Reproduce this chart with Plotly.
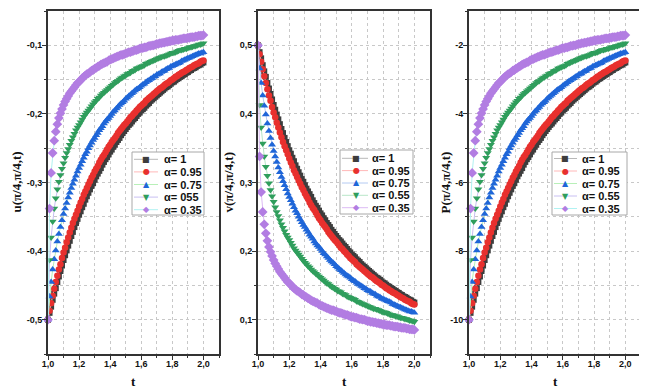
import plotly.graph_objects as go

# time grid (t from 1 to 2, step 0.01)
t = [1.00, 1.01, 1.02, 1.03, 1.04, 1.05, 1.06, 1.07, 1.08, 1.09,
     1.10, 1.11, 1.12, 1.13, 1.14, 1.15, 1.16, 1.17, 1.18, 1.19,
     1.20, 1.21, 1.22, 1.23, 1.24, 1.25, 1.26, 1.27, 1.28, 1.29,
     1.30, 1.31, 1.32, 1.33, 1.34, 1.35, 1.36, 1.37, 1.38, 1.39,
     1.40, 1.41, 1.42, 1.43, 1.44, 1.45, 1.46, 1.47, 1.48, 1.49,
     1.50, 1.51, 1.52, 1.53, 1.54, 1.55, 1.56, 1.57, 1.58, 1.59,
     1.60, 1.61, 1.62, 1.63, 1.64, 1.65, 1.66, 1.67, 1.68, 1.69,
     1.70, 1.71, 1.72, 1.73, 1.74, 1.75, 1.76, 1.77, 1.78, 1.79,
     1.80, 1.81, 1.82, 1.83, 1.84, 1.85, 1.86, 1.87, 1.88, 1.89,
     1.90, 1.91, 1.92, 1.93, 1.94, 1.95, 1.96, 1.97, 1.98, 1.99,
     2.00]

# ---- u(pi/4, pi/4, t) ----
u_a1 = [-0.500, -0.490, -0.481, -0.471, -0.462, -0.454, -0.445, -0.437, -0.429, -0.421,
        -0.413, -0.406, -0.399, -0.392, -0.385, -0.378, -0.372, -0.365, -0.359, -0.353,
        -0.347, -0.342, -0.336, -0.331, -0.325, -0.320, -0.315, -0.310, -0.305, -0.301,
        -0.296, -0.291, -0.287, -0.283, -0.279, -0.274, -0.270, -0.266, -0.263, -0.259,
        -0.255, -0.252, -0.248, -0.245, -0.241, -0.238, -0.235, -0.231, -0.228, -0.225,
        -0.222, -0.219, -0.216, -0.214, -0.211, -0.208, -0.206, -0.203, -0.200, -0.198,
        -0.195, -0.193, -0.191, -0.188, -0.186, -0.184, -0.181, -0.179, -0.177, -0.175,
        -0.173, -0.171, -0.169, -0.167, -0.165, -0.163, -0.161, -0.160, -0.158, -0.156,
        -0.154, -0.153, -0.151, -0.149, -0.148, -0.146, -0.145, -0.143, -0.142, -0.140,
        -0.139, -0.137, -0.136, -0.134, -0.133, -0.132, -0.130, -0.129, -0.128, -0.126,
        -0.125]
u_a095 = [-0.500, -0.487, -0.476, -0.465, -0.455, -0.445, -0.436, -0.427, -0.419, -0.410,
          -0.402, -0.395, -0.387, -0.380, -0.373, -0.366, -0.359, -0.353, -0.347, -0.341,
          -0.335, -0.329, -0.324, -0.318, -0.313, -0.308, -0.303, -0.298, -0.293, -0.289,
          -0.284, -0.280, -0.276, -0.271, -0.267, -0.263, -0.260, -0.256, -0.252, -0.248,
          -0.245, -0.241, -0.238, -0.235, -0.232, -0.228, -0.225, -0.222, -0.219, -0.216,
          -0.214, -0.211, -0.208, -0.205, -0.203, -0.200, -0.198, -0.195, -0.193, -0.190,
          -0.188, -0.186, -0.184, -0.181, -0.179, -0.177, -0.175, -0.173, -0.171, -0.169,
          -0.167, -0.165, -0.163, -0.162, -0.160, -0.158, -0.156, -0.155, -0.153, -0.151,
          -0.150, -0.148, -0.146, -0.145, -0.143, -0.142, -0.140, -0.139, -0.138, -0.136,
          -0.135, -0.133, -0.132, -0.131, -0.129, -0.128, -0.127, -0.126, -0.124, -0.123,
          -0.122]
u_a075 = [-0.500, -0.466, -0.445, -0.427, -0.412, -0.399, -0.386, -0.375, -0.365, -0.355,
          -0.346, -0.338, -0.330, -0.322, -0.315, -0.308, -0.302, -0.296, -0.290, -0.284,
          -0.279, -0.274, -0.269, -0.264, -0.259, -0.255, -0.250, -0.246, -0.242, -0.238,
          -0.235, -0.231, -0.228, -0.224, -0.221, -0.218, -0.214, -0.211, -0.208, -0.206,
          -0.203, -0.200, -0.197, -0.195, -0.192, -0.190, -0.187, -0.185, -0.183, -0.181,
          -0.178, -0.176, -0.174, -0.172, -0.170, -0.168, -0.166, -0.164, -0.163, -0.161,
          -0.159, -0.157, -0.156, -0.154, -0.152, -0.151, -0.149, -0.148, -0.146, -0.145,
          -0.143, -0.142, -0.141, -0.139, -0.138, -0.137, -0.135, -0.134, -0.133, -0.131,
          -0.130, -0.129, -0.128, -0.127, -0.126, -0.125, -0.123, -0.122, -0.121, -0.120,
          -0.119, -0.118, -0.117, -0.116, -0.115, -0.114, -0.113, -0.112, -0.112, -0.111,
          -0.110]
u_a055 = [-0.500, -0.413, -0.380, -0.357, -0.338, -0.323, -0.310, -0.299, -0.289, -0.280,
          -0.272, -0.264, -0.257, -0.251, -0.245, -0.239, -0.234, -0.229, -0.224, -0.220,
          -0.216, -0.212, -0.208, -0.204, -0.201, -0.198, -0.195, -0.192, -0.189, -0.186,
          -0.183, -0.181, -0.178, -0.176, -0.173, -0.171, -0.169, -0.167, -0.165, -0.163,
          -0.161, -0.159, -0.157, -0.155, -0.153, -0.152, -0.150, -0.148, -0.147, -0.145,
          -0.144, -0.142, -0.141, -0.140, -0.138, -0.137, -0.136, -0.134, -0.133, -0.132,
          -0.131, -0.130, -0.129, -0.127, -0.126, -0.125, -0.124, -0.123, -0.122, -0.121,
          -0.120, -0.119, -0.118, -0.117, -0.116, -0.116, -0.115, -0.114, -0.113, -0.112,
          -0.111, -0.111, -0.110, -0.109, -0.108, -0.107, -0.107, -0.106, -0.105, -0.105,
          -0.104, -0.103, -0.103, -0.102, -0.101, -0.101, -0.100, -0.099, -0.099, -0.098,
          -0.097]
u_a035 = [-0.500, -0.338, -0.286, -0.257, -0.239, -0.226, -0.215, -0.206, -0.199, -0.193,
          -0.187, -0.182, -0.178, -0.174, -0.170, -0.167, -0.164, -0.161, -0.158, -0.155,
          -0.153, -0.151, -0.148, -0.146, -0.144, -0.142, -0.141, -0.139, -0.137, -0.136,
          -0.134, -0.133, -0.131, -0.130, -0.128, -0.127, -0.126, -0.125, -0.124, -0.122,
          -0.121, -0.120, -0.119, -0.118, -0.117, -0.116, -0.115, -0.114, -0.114, -0.113,
          -0.112, -0.111, -0.110, -0.110, -0.109, -0.108, -0.107, -0.107, -0.106, -0.105,
          -0.104, -0.104, -0.103, -0.103, -0.102, -0.101, -0.101, -0.100, -0.100, -0.099,
          -0.098, -0.098, -0.097, -0.097, -0.096, -0.096, -0.095, -0.095, -0.094, -0.094,
          -0.093, -0.093, -0.092, -0.092, -0.092, -0.091, -0.091, -0.090, -0.090, -0.090,
          -0.089, -0.089, -0.088, -0.088, -0.088, -0.087, -0.087, -0.086, -0.086, -0.086,
          -0.085]

# ---- v(pi/4, pi/4, t) ----
v_a1 = [0.500, 0.490, 0.481, 0.471, 0.462, 0.454, 0.445, 0.437, 0.429, 0.421,
        0.413, 0.406, 0.399, 0.392, 0.385, 0.378, 0.372, 0.365, 0.359, 0.353,
        0.347, 0.342, 0.336, 0.331, 0.325, 0.320, 0.315, 0.310, 0.305, 0.301,
        0.296, 0.291, 0.287, 0.283, 0.279, 0.274, 0.270, 0.266, 0.263, 0.259,
        0.255, 0.252, 0.248, 0.245, 0.241, 0.238, 0.235, 0.231, 0.228, 0.225,
        0.222, 0.219, 0.216, 0.214, 0.211, 0.208, 0.206, 0.203, 0.200, 0.198,
        0.195, 0.193, 0.191, 0.188, 0.186, 0.184, 0.181, 0.179, 0.177, 0.175,
        0.173, 0.171, 0.169, 0.167, 0.165, 0.163, 0.161, 0.160, 0.158, 0.156,
        0.154, 0.153, 0.151, 0.149, 0.148, 0.146, 0.145, 0.143, 0.142, 0.140,
        0.139, 0.137, 0.136, 0.134, 0.133, 0.132, 0.130, 0.129, 0.128, 0.126,
        0.125]
v_a095 = [0.500, 0.487, 0.476, 0.465, 0.455, 0.445, 0.436, 0.427, 0.419, 0.410,
          0.402, 0.395, 0.387, 0.380, 0.373, 0.366, 0.359, 0.353, 0.347, 0.341,
          0.335, 0.329, 0.324, 0.318, 0.313, 0.308, 0.303, 0.298, 0.293, 0.289,
          0.284, 0.280, 0.276, 0.271, 0.267, 0.263, 0.260, 0.256, 0.252, 0.248,
          0.245, 0.241, 0.238, 0.235, 0.232, 0.228, 0.225, 0.222, 0.219, 0.216,
          0.214, 0.211, 0.208, 0.205, 0.203, 0.200, 0.198, 0.195, 0.193, 0.190,
          0.188, 0.186, 0.184, 0.181, 0.179, 0.177, 0.175, 0.173, 0.171, 0.169,
          0.167, 0.165, 0.163, 0.162, 0.160, 0.158, 0.156, 0.155, 0.153, 0.151,
          0.150, 0.148, 0.146, 0.145, 0.143, 0.142, 0.140, 0.139, 0.138, 0.136,
          0.135, 0.133, 0.132, 0.131, 0.129, 0.128, 0.127, 0.126, 0.124, 0.123,
          0.122]
v_a075 = [0.500, 0.466, 0.445, 0.427, 0.412, 0.399, 0.386, 0.375, 0.365, 0.355,
          0.346, 0.338, 0.330, 0.322, 0.315, 0.308, 0.302, 0.296, 0.290, 0.284,
          0.279, 0.274, 0.269, 0.264, 0.259, 0.255, 0.250, 0.246, 0.242, 0.238,
          0.235, 0.231, 0.228, 0.224, 0.221, 0.218, 0.214, 0.211, 0.208, 0.206,
          0.203, 0.200, 0.197, 0.195, 0.192, 0.190, 0.187, 0.185, 0.183, 0.181,
          0.178, 0.176, 0.174, 0.172, 0.170, 0.168, 0.166, 0.164, 0.163, 0.161,
          0.159, 0.157, 0.156, 0.154, 0.152, 0.151, 0.149, 0.148, 0.146, 0.145,
          0.143, 0.142, 0.141, 0.139, 0.138, 0.137, 0.135, 0.134, 0.133, 0.131,
          0.130, 0.129, 0.128, 0.127, 0.126, 0.125, 0.123, 0.122, 0.121, 0.120,
          0.119, 0.118, 0.117, 0.116, 0.115, 0.114, 0.113, 0.112, 0.112, 0.111,
          0.110]
v_a055 = [0.500, 0.413, 0.380, 0.357, 0.338, 0.323, 0.310, 0.299, 0.289, 0.280,
          0.272, 0.264, 0.257, 0.251, 0.245, 0.239, 0.234, 0.229, 0.224, 0.220,
          0.216, 0.212, 0.208, 0.204, 0.201, 0.198, 0.195, 0.192, 0.189, 0.186,
          0.183, 0.181, 0.178, 0.176, 0.173, 0.171, 0.169, 0.167, 0.165, 0.163,
          0.161, 0.159, 0.157, 0.155, 0.153, 0.152, 0.150, 0.148, 0.147, 0.145,
          0.144, 0.142, 0.141, 0.140, 0.138, 0.137, 0.136, 0.134, 0.133, 0.132,
          0.131, 0.130, 0.129, 0.127, 0.126, 0.125, 0.124, 0.123, 0.122, 0.121,
          0.120, 0.119, 0.118, 0.117, 0.116, 0.116, 0.115, 0.114, 0.113, 0.112,
          0.111, 0.111, 0.110, 0.109, 0.108, 0.107, 0.107, 0.106, 0.105, 0.105,
          0.104, 0.103, 0.103, 0.102, 0.101, 0.101, 0.100, 0.099, 0.099, 0.098,
          0.097]
v_a035 = [0.500, 0.338, 0.286, 0.257, 0.239, 0.226, 0.215, 0.206, 0.199, 0.193,
          0.187, 0.182, 0.178, 0.174, 0.170, 0.167, 0.164, 0.161, 0.158, 0.155,
          0.153, 0.151, 0.148, 0.146, 0.144, 0.142, 0.141, 0.139, 0.137, 0.136,
          0.134, 0.133, 0.131, 0.130, 0.128, 0.127, 0.126, 0.125, 0.124, 0.122,
          0.121, 0.120, 0.119, 0.118, 0.117, 0.116, 0.115, 0.114, 0.114, 0.113,
          0.112, 0.111, 0.110, 0.110, 0.109, 0.108, 0.107, 0.107, 0.106, 0.105,
          0.104, 0.104, 0.103, 0.103, 0.102, 0.101, 0.101, 0.100, 0.100, 0.099,
          0.098, 0.098, 0.097, 0.097, 0.096, 0.096, 0.095, 0.095, 0.094, 0.094,
          0.093, 0.093, 0.092, 0.092, 0.092, 0.091, 0.091, 0.090, 0.090, 0.090,
          0.089, 0.089, 0.088, 0.088, 0.088, 0.087, 0.087, 0.086, 0.086, 0.086,
          0.085]

# ---- P(pi/4, pi/4, t) ----
p_a1 = [-10.00, -9.80, -9.62, -9.42, -9.24, -9.08, -8.90, -8.74, -8.58, -8.42,
        -8.26, -8.12, -7.98, -7.84, -7.70, -7.56, -7.44, -7.30, -7.18, -7.06,
        -6.94, -6.84, -6.72, -6.62, -6.50, -6.40, -6.30, -6.20, -6.10, -6.02,
        -5.92, -5.82, -5.74, -5.66, -5.58, -5.48, -5.40, -5.32, -5.26, -5.18,
        -5.10, -5.04, -4.96, -4.90, -4.82, -4.76, -4.70, -4.62, -4.56, -4.50,
        -4.44, -4.38, -4.32, -4.28, -4.22, -4.16, -4.12, -4.06, -4.00, -3.96,
        -3.90, -3.86, -3.82, -3.76, -3.72, -3.68, -3.62, -3.58, -3.54, -3.50,
        -3.46, -3.42, -3.38, -3.34, -3.30, -3.26, -3.22, -3.20, -3.16, -3.12,
        -3.08, -3.06, -3.02, -2.98, -2.96, -2.92, -2.90, -2.86, -2.84, -2.80,
        -2.78, -2.74, -2.72, -2.68, -2.66, -2.64, -2.60, -2.58, -2.56, -2.52,
        -2.50]
p_a095 = [-10.00, -9.74, -9.52, -9.30, -9.10, -8.90, -8.72, -8.54, -8.38, -8.20,
          -8.04, -7.90, -7.74, -7.60, -7.46, -7.32, -7.18, -7.06, -6.94, -6.82,
          -6.70, -6.58, -6.48, -6.36, -6.26, -6.16, -6.06, -5.96, -5.86, -5.78,
          -5.68, -5.60, -5.52, -5.42, -5.34, -5.26, -5.20, -5.12, -5.04, -4.96,
          -4.90, -4.82, -4.76, -4.70, -4.64, -4.56, -4.50, -4.44, -4.38, -4.32,
          -4.28, -4.22, -4.16, -4.10, -4.06, -4.00, -3.96, -3.90, -3.86, -3.80,
          -3.76, -3.72, -3.68, -3.62, -3.58, -3.54, -3.50, -3.46, -3.42, -3.38,
          -3.34, -3.30, -3.26, -3.24, -3.20, -3.16, -3.12, -3.10, -3.06, -3.02,
          -3.00, -2.96, -2.92, -2.90, -2.86, -2.84, -2.80, -2.78, -2.76, -2.72,
          -2.70, -2.66, -2.64, -2.62, -2.58, -2.56, -2.54, -2.52, -2.48, -2.46,
          -2.44]
p_a075 = [-10.00, -9.32, -8.90, -8.54, -8.24, -7.98, -7.72, -7.50, -7.30, -7.10,
          -6.92, -6.76, -6.60, -6.44, -6.30, -6.16, -6.04, -5.92, -5.80, -5.68,
          -5.58, -5.48, -5.38, -5.28, -5.18, -5.10, -5.00, -4.92, -4.84, -4.76,
          -4.70, -4.62, -4.56, -4.48, -4.42, -4.36, -4.28, -4.22, -4.16, -4.12,
          -4.06, -4.00, -3.94, -3.90, -3.84, -3.80, -3.74, -3.70, -3.66, -3.62,
          -3.56, -3.52, -3.48, -3.44, -3.40, -3.36, -3.32, -3.28, -3.26, -3.22,
          -3.18, -3.14, -3.12, -3.08, -3.04, -3.02, -2.98, -2.96, -2.92, -2.90,
          -2.86, -2.84, -2.82, -2.78, -2.76, -2.74, -2.70, -2.68, -2.66, -2.62,
          -2.60, -2.58, -2.56, -2.54, -2.52, -2.50, -2.46, -2.44, -2.42, -2.40,
          -2.38, -2.36, -2.34, -2.32, -2.30, -2.28, -2.26, -2.24, -2.24, -2.22,
          -2.20]
p_a055 = [-10.00, -8.26, -7.60, -7.14, -6.76, -6.46, -6.20, -5.98, -5.78, -5.60,
          -5.44, -5.28, -5.14, -5.02, -4.90, -4.78, -4.68, -4.58, -4.48, -4.40,
          -4.32, -4.24, -4.16, -4.08, -4.02, -3.96, -3.90, -3.84, -3.78, -3.72,
          -3.66, -3.62, -3.56, -3.52, -3.46, -3.42, -3.38, -3.34, -3.30, -3.26,
          -3.22, -3.18, -3.14, -3.10, -3.06, -3.04, -3.00, -2.96, -2.94, -2.90,
          -2.88, -2.84, -2.82, -2.80, -2.76, -2.74, -2.72, -2.68, -2.66, -2.64,
          -2.62, -2.60, -2.58, -2.54, -2.52, -2.50, -2.48, -2.46, -2.44, -2.42,
          -2.40, -2.38, -2.36, -2.34, -2.32, -2.32, -2.30, -2.28, -2.26, -2.24,
          -2.22, -2.22, -2.20, -2.18, -2.16, -2.14, -2.14, -2.12, -2.10, -2.10,
          -2.08, -2.06, -2.06, -2.04, -2.02, -2.02, -2.00, -1.98, -1.98, -1.96,
          -1.94]
p_a035 = [-10.00, -6.76, -5.72, -5.14, -4.78, -4.52, -4.30, -4.12, -3.98, -3.86,
          -3.74, -3.64, -3.56, -3.48, -3.40, -3.34, -3.28, -3.22, -3.16, -3.10,
          -3.06, -3.02, -2.96, -2.92, -2.88, -2.84, -2.82, -2.78, -2.74, -2.72,
          -2.68, -2.66, -2.62, -2.60, -2.56, -2.54, -2.52, -2.50, -2.48, -2.44,
          -2.42, -2.40, -2.38, -2.36, -2.34, -2.32, -2.30, -2.28, -2.28, -2.26,
          -2.24, -2.22, -2.20, -2.20, -2.18, -2.16, -2.14, -2.14, -2.12, -2.10,
          -2.08, -2.08, -2.06, -2.06, -2.04, -2.02, -2.02, -2.00, -2.00, -1.98,
          -1.96, -1.96, -1.94, -1.94, -1.92, -1.92, -1.90, -1.90, -1.88, -1.88,
          -1.86, -1.86, -1.84, -1.84, -1.84, -1.82, -1.82, -1.80, -1.80, -1.80,
          -1.78, -1.78, -1.76, -1.76, -1.76, -1.74, -1.74, -1.72, -1.72, -1.72,
          -1.70]

labels_u = ["α= 1", "α= 0.95", "α= 0.75", "α= 055", "α= 0.35"]
labels_v = ["α= 1", "α= 0.95", "α= 0.75", "α= 0.55", "α= 0.35"]
labels_p = ["α= 1", "α= 0.95", "α= 0.75", "α= 0.55", "α= 0.35"]

x_tickvals = [1.0, 1.2, 1.4, 1.6, 1.8, 2.0]
x_ticktext = ["1,0", "1,2", "1,4", "1,6", "1,8", "2,0"]
u_tickvals = [-0.5, -0.4, -0.3, -0.2, -0.1]
u_ticktext = ["-0,5", "-0,4", "-0,3", "-0,2", "-0,1"]
v_tickvals = [0.1, 0.2, 0.3, 0.4, 0.5]
v_ticktext = ["0,1", "0,2", "0,3", "0,4", "0,5"]
p_tickvals = [-10, -8, -6, -4, -2]
p_ticktext = ["-10", "-8", "-6", "-4", "-2"]

# ---- styling ----
# the page body has an 8px margin, so the figure is drawn 8px in from the corner
OFF = 8
W, H = 647 - OFF, 390 - OFF
marker_colors = ["#3d3d3d", "#e8302e", "#1f66d8", "#2f9e5c", "#b27de2"]
symbols = ["square", "circle", "triangle-up", "triangle-down", "diamond"]
sizes = [6, 6.5, 7, 7, 7.5]
glyphs = ["■", "●", "▲", "▼", "◆"]
line_u = ["#b8b8b8", "#ffb8b8", "#b8f0b8", "#c8bff2", "#b0f2f2"]
line_v = ["#b8b8b8", "#ffb8b8", "#b4caf2", "#b8e6c8", "#dcbaf4"]
line_p = line_u

AXC = "#333333"
GRID = "#c8c8c8"
tickfont = dict(family="Liberation Sans, Arial", size=9, color="#111111", weight="bold")


def px_x(px):
    # screen pixel -> paper fraction
    return (px - OFF) / W


def px_y(py):
    return 1 - (py - OFF) / H


panels = [
    dict(x0=48, x1=219, ys=[u_a1, u_a095, u_a075, u_a055, u_a035], labels=labels_u,
         lines=line_u, yrange=[-0.55, -0.05], ytv=u_tickvals, ytt=u_ticktext, minor=0.05,
         title="u(π/4,π/4,t)", title_x=16,
         leg=dict(box=(132, 152, 204, 215), rows=[159.3, 171.9, 184.5, 197.1, 209.7],
                  lx=(134, 158), gx=146, tx=162)),
    dict(x0=258, x1=430, ys=[v_a1, v_a095, v_a075, v_a055, v_a035], labels=labels_v,
         lines=line_v, yrange=[0.05, 0.55], ytv=v_tickvals, ytt=v_ticktext, minor=0.05,
         title="v(π/4,π/4,t)", title_x=228,
         leg=dict(box=(340, 150, 413, 214), rows=[158.3, 170.6, 183.0, 195.3, 207.7],
                  lx=(342, 368), gx=356, tx=370)),
    dict(x0=469, x1=641, ys=[p_a1, p_a095, p_a075, p_a055, p_a035], labels=labels_p,
         lines=line_p, yrange=[-11, -1], ytv=p_tickvals, ytt=p_ticktext, minor=1,
         title="P(π/4,π/4,t)", title_x=445,
         leg=dict(box=(552, 152, 627, 215), rows=[158.5, 171.0, 183.5, 196.0, 208.5],
                  lx=(554, 577), gx=565, tx=580)),
]

TOP, BOTTOM = 11, 354

fig = go.Figure()
shapes = []
annotations = []

for i, p in enumerate(panels):
    n = "" if i == 0 else str(i + 1)
    for k in range(5):
        fig.add_trace(go.Scatter(
            x=t, y=p["ys"][k], mode="lines+markers", name=p["labels"][k],
            xaxis="x" + n, yaxis="y" + n, showlegend=False, cliponaxis=False,
            line=dict(color=p["lines"][k], width=1),
            marker=dict(symbol=symbols[k], size=sizes[k], color=marker_colors[k],
                        line=dict(width=0))))

    fig.update_layout({
        "xaxis" + n: dict(
            domain=[px_x(p["x0"]), px_x(p["x1"])], anchor="y" + n, range=[1.0, 2.1],
            tickmode="array", tickvals=x_tickvals, ticktext=x_ticktext,
            ticks="outside", ticklen=4, tickwidth=1, tickcolor=AXC,
            ticklabelstandoff=-4,
            showline=True, linecolor=AXC, linewidth=2, mirror=True,
            showgrid=True, gridcolor=GRID, gridwidth=0.8, griddash="3px,3px",
            zeroline=False, tickfont=tickfont, automargin=False,
            minor=dict(tickmode="linear", tick0=1.0, dtick=0.1, ticks="outside",
                       ticklen=2, tickcolor=AXC, showgrid=True, gridcolor=GRID,
                       gridwidth=0.8, griddash="3px,3px")),
        "yaxis" + n: dict(
            domain=[px_y(BOTTOM), px_y(TOP)], anchor="x" + n, range=p["yrange"],
            tickmode="array", tickvals=p["ytv"], ticktext=p["ytt"],
            ticks="outside", ticklen=4, tickwidth=1, tickcolor=AXC,
            ticklabelstandoff=-2,
            showline=True, linecolor=AXC, linewidth=2, mirror=True,
            showgrid=True, gridcolor=GRID, gridwidth=0.8, griddash="3px,3px",
            zeroline=False, tickfont=tickfont, automargin=False,
            minor=dict(tickmode="linear", tick0=0, dtick=p["minor"], ticks="outside",
                       ticklen=2, tickcolor=AXC, showgrid=True, gridcolor=GRID,
                       gridwidth=0.8, griddash="3px,3px")),
    })

    # axis titles
    annotations.append(dict(
        text=p["title"], x=px_x(p["title_x"]), y=px_y((TOP + BOTTOM) / 2),
        xref="paper", yref="paper", textangle=-90, showarrow=False,
        xanchor="center", yanchor="middle",
        font=dict(family="Liberation Serif, Times New Roman", size=13, color="#111",
                  weight="bold")))
    annotations.append(dict(
        text="t", x=px_x((p["x0"] + p["x1"]) / 2), y=px_y(381),
        xref="paper", yref="paper", showarrow=False, xanchor="center", yanchor="middle",
        font=dict(family="Liberation Serif, Times New Roman", size=13, color="#111",
                  weight="bold")))

    # legend box drawn by hand (compact rows like the original)
    lg = p["leg"]
    bx0, by0, bx1, by1 = lg["box"]
    shapes.append(dict(type="rect", xref="paper", yref="paper", layer="above",
                       x0=px_x(bx0), x1=px_x(bx1), y0=px_y(by1), y1=px_y(by0),
                       line=dict(color="#a8a8a8", width=1), fillcolor="white"))
    for k in range(5):
        ry = lg["rows"][k]
        shapes.append(dict(type="line", xref="paper", yref="paper", layer="above",
                           x0=px_x(lg["lx"][0]), x1=px_x(lg["lx"][1]),
                           y0=px_y(ry), y1=px_y(ry),
                           line=dict(color=p["lines"][k], width=1)))
        annotations.append(dict(
            text=glyphs[k], x=px_x(lg["gx"]), y=px_y(ry), xref="paper", yref="paper",
            showarrow=False, xanchor="center", yanchor="middle",
            font=dict(family="DejaVu Sans", size=8, color=marker_colors[k])))
        annotations.append(dict(
            text=p["labels"][k], x=px_x(lg["tx"]), y=px_y(ry), xref="paper", yref="paper",
            showarrow=False, xanchor="left", yanchor="middle",
            font=dict(family="Liberation Sans, Arial", size=11, color="#111",
                      weight="bold")))

fig.update_layout(
    width=W, height=H,
    margin=dict(l=0, r=0, t=0, b=0),
    paper_bgcolor="white", plot_bgcolor="white",
    showlegend=False,
    shapes=shapes, annotations=annotations,
)

fig.write_html("out.html")
